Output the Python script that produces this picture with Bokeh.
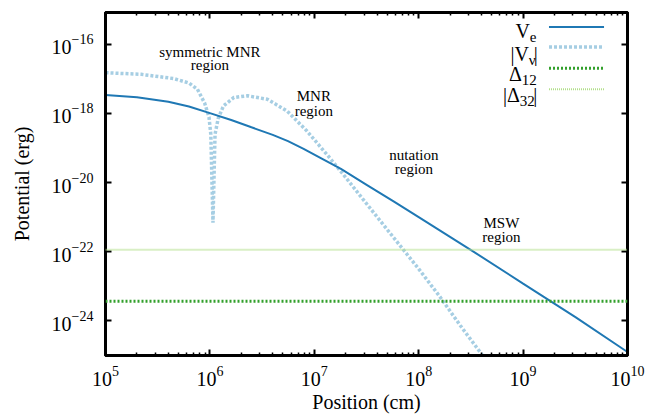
from bokeh.plotting import figure
from bokeh.models import (Range1d, LogAxis, FixedTicker, CustomJSTickFormatter,
                          Span, ColumnDataSource)
from bokeh.core.properties import value
from bokeh.embed import file_html
from bokeh.resources import INLINE

FONT = "Times New Roman"

# ---------------- data ----------------
position_ve = [1.0e5, 2.0e5, 4.0e5, 6.3e5, 1.0e6, 1.6e6, 2.5e6, 4.0e6, 5.6e6,
               7.9e6, 1.12e7, 1.8e7, 3.2e7, 5.8e7, 1.0e8, 3.2e8, 1.0e9, 3.2e9, 1.0e10]
potential_ve = [3.39e-18, 2.95e-18, 2.19e-18, 1.58e-18, 1.02e-18, 6.46e-19, 3.98e-19,
                2.40e-19, 1.58e-19, 9.5e-20, 5.4e-20, 2.5e-20, 8.5e-21, 2.8e-21,
                1.0e-21, 1.1e-22, 1.2e-23, 1.26e-24, 1.26e-25]

position_vnu = [1.0e5, 2.2e5, 4.5e5, 6.3e5, 7.6e5, 8.9e5, 9.8e5, 1.02e6, 1.07e6,
                1.12e6, 1.2e6, 1.35e6, 1.7e6, 2.3e6, 3.55e6, 5.5e6, 8.5e6, 1.35e7,
                2.0e7, 2.95e7, 5.75e7, 1.0e8, 1.62e8, 2.5e8, 4.1e8, 5.0e8]
potential_vnu = [1.51e-17, 1.35e-17, 1.02e-17, 7.6e-18, 5.0e-18, 2.0e-18, 7.9e-19,
                 2.5e-19, 6.9e-22, 2.5e-19, 7.1e-19, 1.66e-18, 2.9e-18, 3.24e-18,
                 2.57e-18, 1.17e-18, 3.1e-19, 6.0e-20, 1.41e-20, 3.2e-21, 2.57e-22,
                 3.2e-23, 4.7e-24, 7.4e-25, 1.0e-25, 4.0e-26]

delta_12 = 3.7e-24
delta_32 = 1.15e-22

x_major_ticks = [1e5, 1e6, 1e7, 1e8, 1e9, 1e10]
x_minor_ticks = [m * 10.0 ** e for e in range(5, 10) for m in range(2, 10)]
y_major_ticks = [1e-24, 1e-22, 1e-20, 1e-18, 1e-16]

region_text = ["symmetric MNR", "region", "MNR", "region",
               "nutation", "region", "MSW", "region"]
region_x = [1.0e6, 1.0e6, 9.9e6, 9.9e6, 9.0e7, 9.0e7, 6.2e8, 6.2e8]
region_y = [6.0e-17, 2.45e-17, 3.2e-18, 1.17e-18, 6.3e-20, 2.5e-20, 6.6e-22, 2.6e-22]

legend_main = ["V", "|V", "\u0394", "|\u0394"]
legend_sub = ["e", "\u03bd", "12", "32"]
legend_close = ["", "|", "", "|"]
legend_text_y = [2.43e-16, 5.4e-17, 1.35e-17, 3.4e-18]
legend_line_y = [3.16e-16, 8.3e-17, 2.04e-17, 5.0e-18]

COL_VE = "#1f78b4"
COL_VNU = "#a6cee3"
COL_D12 = "#33a02c"
COL_D32 = "#b2df8a"

# ---------------- figure ----------------
p = figure(x_axis_type="log", y_axis_type="log",
           x_range=Range1d(1e5, 1e10), y_range=Range1d(1e-25, 8.3e-16),
           frame_width=522, frame_height=343,
           min_border_left=105, min_border_top=12, min_border_right=25, min_border_bottom=60,
           output_backend="svg", toolbar_location=None)
p.background_fill_color = "white"
p.border_fill_color = "white"
p.outline_line_color = "black"
p.outline_line_width = 3
p.grid.visible = False


def style_axis(ax):
    ax.axis_line_color = "black"
    ax.axis_line_width = 3
    ax.major_tick_in = 6
    ax.major_tick_out = 0
    ax.minor_tick_in = 3
    ax.minor_tick_out = 0
    ax.major_tick_line_color = "black"
    ax.minor_tick_line_color = "black"
    ax.major_tick_line_width = 2
    ax.minor_tick_line_width = 1.5
    ax.major_label_text_font = FONT
    ax.major_label_text_font_size = "20px"
    ax.major_label_text_color = "black"
    ax.axis_label_text_font = FONT
    ax.axis_label_text_font_size = "20px"
    ax.axis_label_text_font_style = "normal"
    ax.axis_label_text_color = "black"


xax = p.xaxis[0]
yax = p.yaxis[0]
xax.ticker = FixedTicker(ticks=x_major_ticks, minor_ticks=x_minor_ticks)
yax.ticker = FixedTicker(ticks=y_major_ticks, minor_ticks=[])
style_axis(xax)
style_axis(yax)
xax.axis_label = "Position (cm)"
yax.axis_label = "Potential (erg)"
xax.major_label_standoff = 10
xax.axis_label_standoff = 2
yax.major_label_standoff = 12
yax.axis_label_standoff = 16

top = LogAxis(ticker=FixedTicker(ticks=x_major_ticks, minor_ticks=x_minor_ticks),
              formatter=CustomJSTickFormatter(code="return ''"))
right = LogAxis(ticker=FixedTicker(ticks=y_major_ticks, minor_ticks=[]),
                formatter=CustomJSTickFormatter(code="return ''"))
for ax in (top, right):
    style_axis(ax)
    ax.major_label_text_font_size = "0px"
    ax.major_label_standoff = 0
p.add_layout(top, "above")
p.add_layout(right, "right")

# ---------------- series ----------------
p.add_layout(Span(location=delta_32, dimension="width", line_color=COL_D32,
                  line_width=2, line_dash="1 1"))
p.add_layout(Span(location=delta_12, dimension="width", line_color=COL_D12,
                  line_width=3, line_dash="2 2"))
p.line(position_vnu, potential_vnu, line_color=COL_VNU, line_width=3.5, line_dash="3 2")
p.line(position_ve, potential_ve, line_color=COL_VE, line_width=2)

# ---------------- region annotations ----------------
p.text(x=region_x, y=region_y, text=region_text, text_align="center",
       text_baseline="alphabetic", text_font=value(FONT), text_font_size="15px",
       text_color="black")

# ---------------- legend (built by hand for subscripts) ----------------
legend_x = 1.355e9
sample_x = [1.77e9, 5.96e9]
main_off = [-7, -8, -15, -17]
close_off = [0, -3, 0, -3.5]
src_main = ColumnDataSource(dict(x=[legend_x] * 4, y=legend_text_y, t=legend_main, dx=main_off))
src_sub = ColumnDataSource(dict(x=[legend_x] * 4, y=legend_text_y, t=legend_sub, dx=main_off))
src_close = ColumnDataSource(dict(x=[legend_x] * 2, y=[legend_text_y[1], legend_text_y[3]],
                                  t=[legend_close[1], legend_close[3]],
                                  dx=[close_off[1], close_off[3]]))
p.text(x="x", y="y", text="t", x_offset="dx", source=src_main, text_align="right",
       text_baseline="alphabetic", text_font=value(FONT), text_font_size="20px",
       text_color="black")
p.text(x="x", y="y", text="t", x_offset="dx", y_offset=6, source=src_sub, text_align="left",
       text_baseline="alphabetic", text_font=value(FONT), text_font_size="15px",
       text_color="black")
p.text(x="x", y="y", text="t", x_offset="dx", source=src_close, text_align="left",
       text_baseline="alphabetic", text_font=value(FONT), text_font_size="20px",
       text_color="black")

styles = [(COL_VE, 2, "solid"), (COL_VNU, 3.5, "3 2"), (COL_D12, 3, "2 2"), (COL_D32, 2, "1 1")]
for yy, (c, w, d) in zip(legend_line_y, styles):
    p.line(sample_x, [yy, yy], line_color=c, line_width=w, line_dash=d)

open("out.html", "w").write(file_html(p, INLINE))
